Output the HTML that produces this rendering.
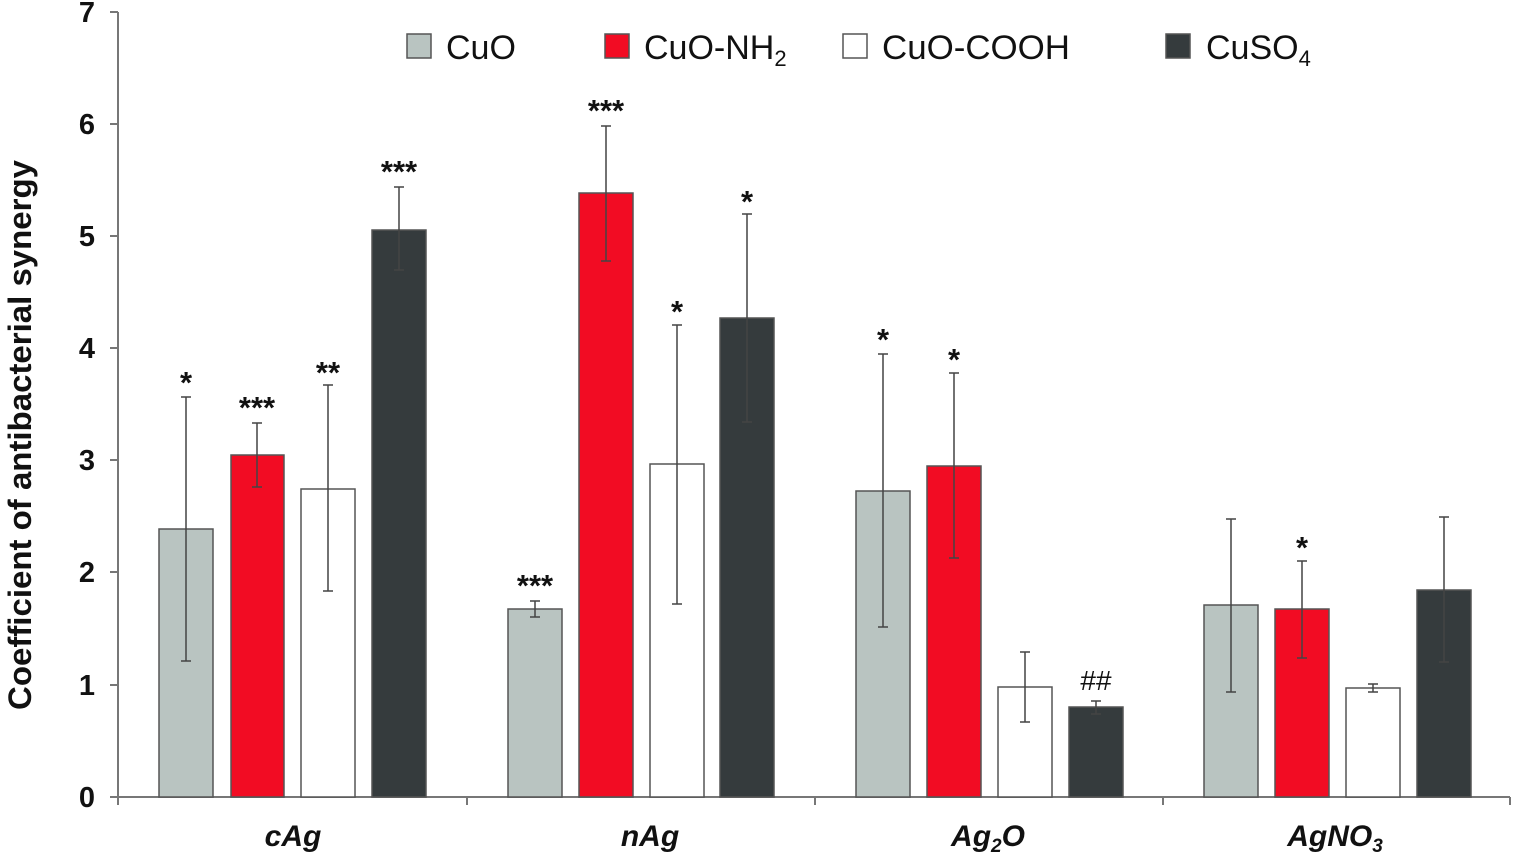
<!DOCTYPE html>
<html><head><meta charset="utf-8"><style>body{margin:0;background:#fff}svg{display:block}</style></head><body>
<svg width="1513" height="856" xmlns="http://www.w3.org/2000/svg" font-family="Liberation Sans, sans-serif">
<g stroke="#777" stroke-width="2" fill="none">
<line x1="118" y1="12" x2="118" y2="798"/>
<line x1="118" y1="797" x2="1510" y2="797"/>
<line x1="110" y1="797" x2="118" y2="797"/><line x1="110" y1="685" x2="118" y2="685"/><line x1="110" y1="572" x2="118" y2="572"/><line x1="110" y1="460" x2="118" y2="460"/><line x1="110" y1="348" x2="118" y2="348"/><line x1="110" y1="236" x2="118" y2="236"/><line x1="110" y1="124" x2="118" y2="124"/><line x1="110" y1="12" x2="118" y2="12"/>
<line x1="118" y1="797" x2="118" y2="805"/><line x1="467" y1="797" x2="467" y2="805"/><line x1="815" y1="797" x2="815" y2="805"/><line x1="1163" y1="797" x2="1163" y2="805"/><line x1="1510" y1="797" x2="1510" y2="805"/>
</g>
<g font-size="29" font-weight="bold" text-anchor="end" fill="#111">
<text x="95" y="807">0</text><text x="95" y="695">1</text><text x="95" y="582">2</text><text x="95" y="470">3</text><text x="95" y="358">4</text><text x="95" y="246">5</text><text x="95" y="134">6</text><text x="95" y="22">7</text>
</g>
<text transform="translate(31,435) rotate(-90)" font-size="32" font-weight="bold" text-anchor="middle" fill="#111" textLength="550" lengthAdjust="spacingAndGlyphs">Coefficient of antibacterial synergy</text>
<g stroke="#555" stroke-width="1.5">
<rect x="159" y="529" width="54" height="268" fill="#b9c4c1"/><rect x="231" y="455" width="53" height="342" fill="#f20c23"/><rect x="301" y="489" width="54" height="308" fill="#fff"/><rect x="372" y="230" width="54" height="567" fill="#353b3d"/>
<rect x="508" y="609" width="54" height="188" fill="#b9c4c1"/><rect x="579" y="193" width="54" height="604" fill="#f20c23"/><rect x="650" y="464" width="54" height="333" fill="#fff"/><rect x="720" y="318" width="54" height="479" fill="#353b3d"/>
<rect x="856" y="491" width="54" height="306" fill="#b9c4c1"/><rect x="927" y="466" width="54" height="331" fill="#f20c23"/><rect x="998" y="687" width="54" height="110" fill="#fff"/><rect x="1069" y="707" width="54" height="90" fill="#353b3d"/>
<rect x="1204" y="605" width="54" height="192" fill="#b9c4c1"/><rect x="1275" y="609" width="54" height="188" fill="#f20c23"/><rect x="1346" y="688" width="54" height="109" fill="#fff"/><rect x="1417" y="590" width="54" height="207" fill="#353b3d"/>
</g>
<g stroke="#444" stroke-width="1.5" fill="none">
<path d="M186 397V661M181 397h10M181 661h10"/>
<path d="M257 423V487M252 423h10M252 487h10"/>
<path d="M328 385V591M323 385h10M323 591h10"/>
<path d="M399 187V270M394 187h10M394 270h10"/>
<path d="M535 601V617M530 601h10M530 617h10"/>
<path d="M606 126V261M601 126h10M601 261h10"/>
<path d="M677 325V604M672 325h10M672 604h10"/>
<path d="M747 214V422M742 214h10M742 422h10"/>
<path d="M883 354V627M878 354h10M878 627h10"/>
<path d="M954 373V558M949 373h10M949 558h10"/>
<path d="M1025 652V722M1020 652h10M1020 722h10"/>
<path d="M1096 701V714M1091 701h10M1091 714h10"/>
<path d="M1231 519V692M1226 519h10M1226 692h10"/>
<path d="M1302 561V658M1297 561h10M1297 658h10"/>
<path d="M1373 684V692M1368 684h10M1368 692h10"/>
<path d="M1444 517V662M1439 517h10M1439 662h10"/>
</g>
<g font-size="31" font-weight="bold" text-anchor="middle" fill="#111">
<text x="186" y="393">*</text><text x="257" y="418">***</text><text x="328" y="383">**</text><text x="399" y="182">***</text>
<text x="535" y="596">***</text><text x="606" y="121">***</text><text x="677" y="322">*</text><text x="747" y="212">*</text>
<text x="883" y="350">*</text><text x="954" y="370">*</text><text x="1096" y="690" font-size="28" font-weight="normal">##</text>
<text x="1302" y="558">*</text>
</g>
<g font-size="30" font-weight="bold" font-style="italic" text-anchor="middle" fill="#111">
<text x="293" y="846">cAg</text><text x="650" y="846">nAg</text>
<text x="988" y="846">Ag<tspan font-size="19" dy="6">2</tspan><tspan dy="-6">O</tspan></text>
<text x="1335" y="846">AgNO<tspan font-size="19" dy="6">3</tspan></text>
</g>
<g stroke="#555" stroke-width="1.5">
<rect x="407" y="34" width="24" height="24" fill="#b9c4c1"/>
<rect x="605" y="34" width="24" height="24" fill="#f20c23"/>
<rect x="843" y="34" width="24" height="24" fill="#fff"/>
<rect x="1166" y="34" width="24" height="24" fill="#353b3d"/>
</g>
<g font-size="34" fill="#111">
<text x="446" y="59">CuO</text>
<text x="644" y="59">CuO-NH<tspan font-size="22" dy="7">2</tspan></text>
<text x="882" y="59" textLength="188" lengthAdjust="spacingAndGlyphs">CuO-COOH</text>
<text x="1206" y="59">CuSO<tspan font-size="22" dy="7">4</tspan></text>
</g>
</svg>
</body></html>
